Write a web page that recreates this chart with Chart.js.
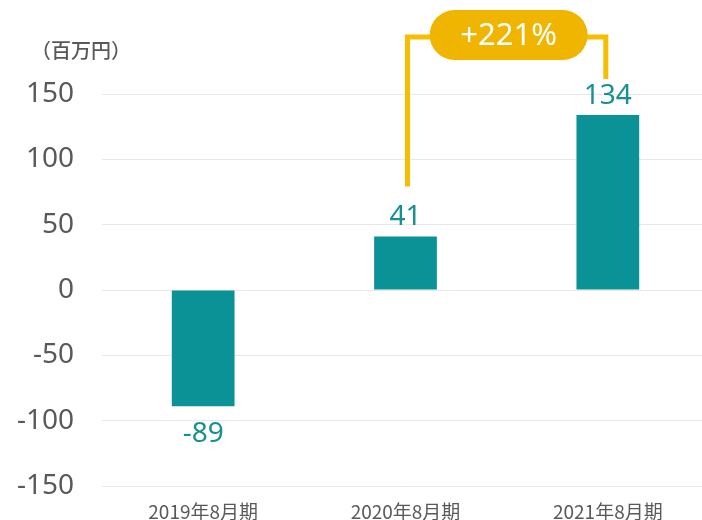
<!DOCTYPE html>
<html><head><meta charset="utf-8">
<script src="https://cdn.jsdelivr.net/npm/chart.js@4.4.0/dist/chart.umd.min.js"></script>
<style>html,body{margin:0;padding:0;background:#fff;overflow:hidden}#wrap{width:702px;height:520px;position:relative;overflow:hidden}</style>
</head><body><div id="wrap"><canvas id="c" width="709" height="520"></canvas></div>
<script>
const categories = ["2019年8月期", "2020年8月期", "2021年8月期"];
const values = [-89, 41, 134];
const yTicks = [-150, -100, -50, 0, 50, 100, 150];
const unitLabel = "（百万円）";
const growthLabel = "+221%";

const TEAL = "#0a9297";
const TEAL_TEXT = "#179094";
const GOLD = "#f7bd00";
const PILL = "#efb500";
const GRAY = "#595959";
const NUMFONT = '"Noto Sans", "Open Sans", sans-serif';
const JPFONT = '"Noto Sans CJK JP", "Noto Sans", sans-serif';

const overlay = {
  id: "overlay",
  afterDatasetsDraw(chart) {
    const ctx = chart.ctx;
    const xs = chart.scales.x, ys = chart.scales.y;
    ctx.save();
    ctx.fillStyle = GRAY;
    ctx.font = "500 20px " + JPFONT;
    ctx.textAlign = "left";
    ctx.textBaseline = "middle";
    ctx.fillText(unitLabel, 31, 50);
    ctx.fillStyle = TEAL_TEXT;
    ctx.font = "28px " + NUMFONT;
    ctx.textAlign = "center";
    ctx.textBaseline = "alphabetic";
    values.forEach((v, i) => {
      const x = xs.getPixelForValue(i);
      const yb = ys.getPixelForValue(v);
      if (v >= 0) ctx.fillText(String(v), x, yb - 11);
      else ctx.fillText(String(v), x, yb + 36);
    });
    const x1 = xs.getPixelForValue(1) + 2, x2 = xs.getPixelForValue(2) - 2;
    const yA = ys.getPixelForValue(values[1]) - 50;
    const yB = ys.getPixelForValue(values[2]) - 36;
    const yTop = 37;
    ctx.strokeStyle = GOLD;
    ctx.lineWidth = 5;
    ctx.lineJoin = "miter";
    ctx.beginPath();
    ctx.moveTo(x1, yA); ctx.lineTo(x1, yTop); ctx.lineTo(x2, yTop); ctx.lineTo(x2, yB);
    ctx.stroke();
    const cx = (x1 + x2) / 2 + 2, pw = 158, ph = 50, py = 10;
    const px = cx - pw / 2, r = ph / 2;
    ctx.fillStyle = PILL;
    ctx.beginPath();
    ctx.moveTo(px + r, py);
    ctx.lineTo(px + pw - r, py);
    ctx.arc(px + pw - r, py + r, r, -Math.PI / 2, Math.PI / 2);
    ctx.lineTo(px + r, py + ph);
    ctx.arc(px + r, py + r, r, Math.PI / 2, Math.PI * 1.5);
    ctx.closePath();
    ctx.fill();
    ctx.fillStyle = "#ffffff";
    ctx.font = "31px " + NUMFONT;
    ctx.textAlign = "center";
    ctx.textBaseline = "middle";
    ctx.fillText(growthLabel, cx, py + ph / 2 + 1);
    ctx.restore();
  }
};

new Chart(document.getElementById("c"), {
  type: "bar",
  data: {
    labels: categories,
    datasets: [{ data: values, backgroundColor: TEAL, borderWidth: 0,
      barPercentage: 0.31, categoryPercentage: 1.0 }]
  },
  options: {
    responsive: false,
    animation: false,
    layout: { padding: { top: 94, right: 0, left: 0, bottom: 0 } },
    plugins: { legend: { display: false }, tooltip: { enabled: false } },
    scales: {
      x: {
        grid: { display: false, drawTicks: false },
        border: { display: false },
        ticks: { color: GRAY, font: { size: 19, family: JPFONT }, padding: 14 },
        afterFit(s) { s.height = 34; s.paddingLeft = 0; s.paddingRight = 0; }
      },
      y: {
        min: -150, max: 150,
        afterBuildTicks(s) { s.ticks = yTicks.map(v => ({ value: v })); },
        grid: { color: "#e8e8e8", lineWidth: 1, drawTicks: false },
        border: { display: false },
        ticks: { color: GRAY, font: { size: 28, family: NUMFONT }, padding: 28 },
        afterFit(s) { s.width = 102; s.paddingTop = 0; s.paddingBottom = 0; }
      }
    }
  },
  plugins: [overlay]
});
</script></body></html>
